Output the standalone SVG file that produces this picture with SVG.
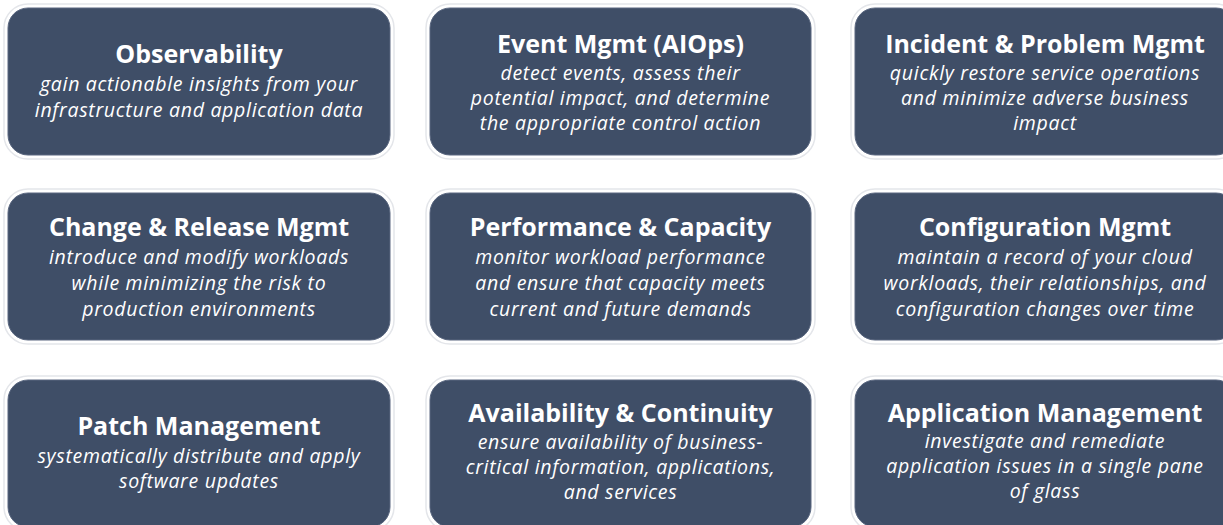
<svg xmlns="http://www.w3.org/2000/svg" width="1223" height="525" viewBox="0 0 1223 525">
<style>
.halo{fill:#ffffff;stroke:#e4e6ea;stroke-width:1.5}
.box{fill:#3f4e67;stroke:#5a6780;stroke-width:1}
.t{font-family:"Open Sans","Liberation Sans",sans-serif;font-weight:700;font-size:25px;fill:#ffffff;text-anchor:middle}
.d{font-family:"Open Sans","Liberation Sans",sans-serif;font-style:italic;font-size:19.5px;letter-spacing:0.7px;fill:#ffffff;text-anchor:middle}
</style>
<rect width="1223" height="525" fill="#ffffff"/>
<g id="observability">
<rect class="halo" x="4" y="4" width="390" height="155" rx="24"/>
<rect class="box" x="8" y="8" width="382" height="147" rx="20"/>
<text class="t" x="199" y="63">Observability</text>
<text class="d" x="199" y="91">gain actionable insights from your</text>
<text class="d" x="199" y="117">infrastructure and application data</text>
</g>
<g id="event-mgmt">
<rect class="halo" x="426" y="4" width="389" height="155" rx="24"/>
<rect class="box" x="430" y="8" width="381" height="147" rx="20"/>
<text class="t" x="620.5" y="53">Event Mgmt (AIOps)</text>
<text class="d" x="620.5" y="80">detect events, assess their</text>
<text class="d" x="620.5" y="105">potential impact, and determine</text>
<text class="d" x="620.5" y="130">the appropriate control action</text>
</g>
<g id="incident-problem-mgmt">
<rect class="halo" x="851" y="4" width="389" height="155" rx="24"/>
<rect class="box" x="855" y="8" width="381" height="147" rx="20"/>
<text class="t" x="1045" y="53">Incident &amp; Problem Mgmt</text>
<text class="d" x="1045" y="80">quickly restore service operations</text>
<text class="d" x="1045" y="105">and minimize adverse business</text>
<text class="d" x="1045" y="130">impact</text>
</g>
<g id="change-release-mgmt">
<rect class="halo" x="4" y="189" width="390" height="155" rx="24"/>
<rect class="box" x="8" y="193" width="382" height="147" rx="20"/>
<text class="t" x="199" y="236">Change &amp; Release Mgmt</text>
<text class="d" x="199" y="264">introduce and modify workloads</text>
<text class="d" x="199" y="290">while minimizing the risk to</text>
<text class="d" x="199" y="316">production environments</text>
</g>
<g id="performance-capacity">
<rect class="halo" x="426" y="189" width="389" height="155" rx="24"/>
<rect class="box" x="430" y="193" width="381" height="147" rx="20"/>
<text class="t" x="620.5" y="236">Performance &amp; Capacity</text>
<text class="d" x="620.5" y="264">monitor workload performance</text>
<text class="d" x="620.5" y="290">and ensure that capacity meets</text>
<text class="d" x="620.5" y="316">current and future demands</text>
</g>
<g id="configuration-mgmt">
<rect class="halo" x="851" y="189" width="389" height="155" rx="24"/>
<rect class="box" x="855" y="193" width="381" height="147" rx="20"/>
<text class="t" x="1045" y="236">Configuration Mgmt</text>
<text class="d" x="1045" y="264">maintain a record of your cloud</text>
<text class="d" x="1045" y="290">workloads, their relationships, and</text>
<text class="d" x="1045" y="316">configuration changes over time</text>
</g>
<g id="patch-management">
<rect class="halo" x="4" y="376" width="390" height="155" rx="24"/>
<rect class="box" x="8" y="380" width="382" height="147" rx="20"/>
<text class="t" x="199" y="435">Patch Management</text>
<text class="d" x="199" y="463">systematically distribute and apply</text>
<text class="d" x="199" y="488">software updates</text>
</g>
<g id="availability-continuity">
<rect class="halo" x="426" y="376" width="389" height="155" rx="24"/>
<rect class="box" x="430" y="380" width="381" height="147" rx="20"/>
<text class="t" x="620.5" y="422">Availability &amp; Continuity</text>
<text class="d" x="620.5" y="449">ensure availability of business-</text>
<text class="d" x="620.5" y="474">critical information, applications,</text>
<text class="d" x="620.5" y="499">and services</text>
</g>
<g id="application-management">
<rect class="halo" x="851" y="376" width="389" height="155" rx="24"/>
<rect class="box" x="855" y="380" width="381" height="147" rx="20"/>
<text class="t" x="1045" y="422">Application Management</text>
<text class="d" x="1045" y="448">investigate and remediate</text>
<text class="d" x="1045" y="473">application issues in a single pane</text>
<text class="d" x="1045" y="498">of glass</text>
</g>
<g id="connectors"></g>
</svg>
